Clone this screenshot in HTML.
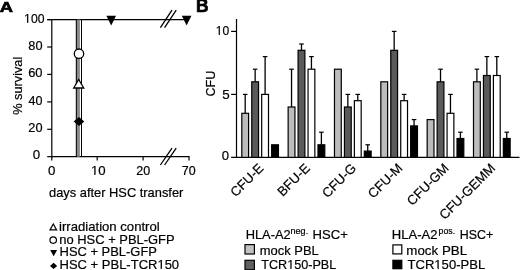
<!DOCTYPE html>
<html><head><meta charset="utf-8"><style>
html,body{margin:0;padding:0;background:#fff;overflow:hidden;width:520px;height:270px;}
svg{display:block;filter:grayscale(1);}
text{font-family:"Liberation Sans",sans-serif;fill:#000;stroke:#000;stroke-width:0.2px;}
</style></head><body>
<svg width="520" height="270" viewBox="0 0 520 270">
<rect width="520" height="270" fill="#fff"/>
<text transform="translate(-0.25,12.25) scale(1.182,1)" font-size="15.51" font-weight="bold" style="stroke-width:0.7px">A</text>
<line x1="51.8" y1="19.0" x2="51.8" y2="157.3" stroke="#000" stroke-width="1.2"/>
<line x1="47.2" y1="19.6" x2="51.8" y2="19.6" stroke="#000" stroke-width="1.2"/>
<line x1="47.2" y1="47.0" x2="51.8" y2="47.0" stroke="#000" stroke-width="1.2"/>
<line x1="47.2" y1="74.4" x2="51.8" y2="74.4" stroke="#000" stroke-width="1.2"/>
<line x1="47.2" y1="101.9" x2="51.8" y2="101.9" stroke="#000" stroke-width="1.2"/>
<line x1="47.2" y1="129.3" x2="51.8" y2="129.3" stroke="#000" stroke-width="1.2"/>
<line x1="47.2" y1="156.7" x2="51.8" y2="156.7" stroke="#000" stroke-width="1.2"/>
<text transform="translate(24.12,23.35) scale(0.959,1)" font-size="12.71">100</text>
<text transform="translate(28.29,49.65) scale(0.975,1)" font-size="13.14">80</text>
<text transform="translate(28.15,76.55) scale(0.985,1)" font-size="13.14">60</text>
<text transform="translate(28.55,104.55) scale(0.957,1)" font-size="13.14">40</text>
<text transform="translate(28.36,131.65) scale(0.959,1)" font-size="13.29">20</text>
<text transform="translate(32.77,159.35) scale(1.014,1)" font-size="13.14">0</text>
<line x1="51.199999999999996" y1="156.7" x2="189.6" y2="156.7" stroke="#000" stroke-width="1.2"/>
<line x1="51.8" y1="156.7" x2="51.8" y2="160.6" stroke="#000" stroke-width="1.2"/>
<line x1="97.2" y1="156.7" x2="97.2" y2="160.6" stroke="#000" stroke-width="1.2"/>
<line x1="143.1" y1="156.7" x2="143.1" y2="160.6" stroke="#000" stroke-width="1.2"/>
<line x1="189.0" y1="156.7" x2="189.0" y2="160.6" stroke="#000" stroke-width="1.2"/>
<text transform="translate(47.97,175.35) scale(1.049,1)" font-size="12.71">0</text>
<text transform="translate(90.94,175.35) scale(1.041,1)" font-size="12.71">10</text>
<text transform="translate(136.27,175.35) scale(0.987,1)" font-size="12.71">20</text>
<text transform="translate(181.78,175.35) scale(0.979,1)" font-size="12.71">70</text>
<line x1="160.4" y1="165.0" x2="172.0" y2="148.2" stroke="#000" stroke-width="1.3"/>
<line x1="160.4" y1="27.6" x2="172.0" y2="10.2" stroke="#000" stroke-width="1.3"/>
<line x1="164.6" y1="165.0" x2="176.2" y2="148.2" stroke="#000" stroke-width="1.3"/>
<line x1="164.6" y1="27.6" x2="176.2" y2="10.2" stroke="#000" stroke-width="1.3"/>
<line x1="47.2" y1="19.6" x2="186.7" y2="19.6" stroke="#000" stroke-width="1.2"/>
<rect x="76.9" y="19.6" width="3.0" height="137.1" fill="#8a8a8a"/>
<line x1="76.35" y1="19.6" x2="76.35" y2="156.7" stroke="#000" stroke-width="1.1"/>
<line x1="81.5" y1="19.6" x2="81.5" y2="156.7" stroke="#000" stroke-width="1.0"/>
<polygon points="106.4,15.7 116.0,15.7 111.2,25.4" fill="#000"/>
<polygon points="181.79999999999998,15.7 191.4,15.7 186.6,25.4" fill="#000"/>
<circle cx="79" cy="53.7" r="4.7" fill="#fff" stroke="#000" stroke-width="1.3"/>
<polygon points="78.7,79.5 73.7,88.0 83.7,88.0" fill="#fff" stroke="#000" stroke-width="1.3" stroke-linejoin="miter"/>
<polygon points="79,116.9 84.3,121.5 79,126.1 73.7,121.5" fill="#000"/>
<text transform="translate(22.4,114.81) rotate(-90) scale(1.005,1)" font-size="12.7">% survival</text>
<text transform="translate(48.98,196.60) scale(0.998,1)" font-size="12.90">days after HSC transfer</text>
<text transform="translate(59.08,230.70) scale(1.017,1)" font-size="12.90">irradiation control</text>
<text transform="translate(59.29,243.90) scale(1.003,1)" font-size="12.90">no HSC + PBL-GFP</text>
<text transform="translate(59.56,256.30) scale(1.004,1)" font-size="12.90">HSC + PBL-GFP</text>
<text transform="translate(59.56,269.00) scale(1.009,1)" font-size="12.90">HSC + PBL-TCR150</text>
<polygon points="53.3,224.0 56.6,229.9 50.0,229.9" fill="#fff" stroke="#000" stroke-width="1.2"/>
<circle cx="53.2" cy="240.1" r="3.25" fill="#fff" stroke="#000" stroke-width="1.2"/>
<polygon points="50.2,250.1 57.1,250.1 53.65,256.3" fill="#000"/>
<polygon points="53.6,262.7 57.2,265.9 53.6,269.1 50.0,265.9" fill="#000"/>
<text transform="translate(196.08,12.35) scale(0.952,1)" font-size="18.26" font-weight="bold" style="stroke-width:0.7px">B</text>
<line x1="236.5" y1="19.0" x2="236.5" y2="158.0" stroke="#000" stroke-width="1.2"/>
<line x1="231.1" y1="157.4" x2="519.5" y2="157.4" stroke="#000" stroke-width="1.2"/>
<line x1="231.1" y1="31.400000000000006" x2="236.5" y2="31.400000000000006" stroke="#000" stroke-width="1.2"/>
<line x1="231.1" y1="94.4" x2="236.5" y2="94.4" stroke="#000" stroke-width="1.2"/>
<text transform="translate(215.73,34.65) scale(0.953,1)" font-size="12.71">10</text>
<text transform="translate(222.26,98.75) scale(1.028,1)" font-size="13.04">5</text>
<text transform="translate(221.87,160.45) scale(1.068,1)" font-size="12.29">0</text>
<text transform="translate(214.60,96.53) rotate(-90) scale(0.987,1)" font-size="12.7">CFU</text>
<line x1="245.2" y1="94.4" x2="245.2" y2="113.30000000000001" stroke="#000" stroke-width="1.3"/>
<line x1="242.89999999999998" y1="94.4" x2="247.5" y2="94.4" stroke="#000" stroke-width="1.2"/>
<rect x="241.80" y="113.30" width="6.8" height="44.10" fill="#bcbcbc" stroke="#000" stroke-width="1.2"/>
<line x1="255.14999999999998" y1="69.2" x2="255.14999999999998" y2="81.80000000000001" stroke="#000" stroke-width="1.3"/>
<line x1="252.84999999999997" y1="69.2" x2="257.45" y2="69.2" stroke="#000" stroke-width="1.2"/>
<rect x="251.75" y="81.80" width="6.8" height="75.60" fill="#5a5a5a" stroke="#000" stroke-width="1.2"/>
<line x1="265.09999999999997" y1="56.60000000000001" x2="265.09999999999997" y2="94.4" stroke="#000" stroke-width="1.3"/>
<line x1="262.79999999999995" y1="56.60000000000001" x2="267.4" y2="56.60000000000001" stroke="#000" stroke-width="1.2"/>
<rect x="261.70" y="94.40" width="6.8" height="63.00" fill="#ffffff" stroke="#000" stroke-width="1.2"/>
<rect x="271.65" y="144.80" width="6.8" height="12.60" fill="#000000" stroke="#000" stroke-width="1.2"/>
<text transform="translate(261.00,165.70) rotate(-45) scale(1.0,1)" font-size="13.2" text-anchor="end" y="4.62">CFU-E</text>
<line x1="291.53999999999996" y1="69.2" x2="291.53999999999996" y2="107.0" stroke="#000" stroke-width="1.3"/>
<line x1="289.23999999999995" y1="69.2" x2="293.84" y2="69.2" stroke="#000" stroke-width="1.2"/>
<rect x="288.14" y="107.00" width="6.8" height="50.40" fill="#bcbcbc" stroke="#000" stroke-width="1.2"/>
<line x1="301.48999999999995" y1="44.000000000000014" x2="301.48999999999995" y2="50.30000000000001" stroke="#000" stroke-width="1.3"/>
<line x1="299.18999999999994" y1="44.000000000000014" x2="303.78999999999996" y2="44.000000000000014" stroke="#000" stroke-width="1.2"/>
<rect x="298.09" y="50.30" width="6.8" height="107.10" fill="#5a5a5a" stroke="#000" stroke-width="1.2"/>
<line x1="311.43999999999994" y1="56.60000000000001" x2="311.43999999999994" y2="69.2" stroke="#000" stroke-width="1.3"/>
<line x1="309.13999999999993" y1="56.60000000000001" x2="313.73999999999995" y2="56.60000000000001" stroke="#000" stroke-width="1.2"/>
<rect x="308.04" y="69.20" width="6.8" height="88.20" fill="#ffffff" stroke="#000" stroke-width="1.2"/>
<line x1="321.39" y1="132.20000000000002" x2="321.39" y2="144.8" stroke="#000" stroke-width="1.3"/>
<line x1="319.09" y1="132.20000000000002" x2="323.69" y2="132.20000000000002" stroke="#000" stroke-width="1.2"/>
<rect x="317.99" y="144.80" width="6.8" height="12.60" fill="#000000" stroke="#000" stroke-width="1.2"/>
<text transform="translate(307.34,165.70) rotate(-45) scale(1.0,1)" font-size="13.2" text-anchor="end" y="4.62">BFU-E</text>
<rect x="334.48" y="69.20" width="6.8" height="88.20" fill="#bcbcbc" stroke="#000" stroke-width="1.2"/>
<line x1="347.83" y1="94.4" x2="347.83" y2="107.0" stroke="#000" stroke-width="1.3"/>
<line x1="345.53" y1="94.4" x2="350.13" y2="94.4" stroke="#000" stroke-width="1.2"/>
<rect x="344.43" y="107.00" width="6.8" height="50.40" fill="#5a5a5a" stroke="#000" stroke-width="1.2"/>
<line x1="357.78" y1="94.4" x2="357.78" y2="100.70000000000002" stroke="#000" stroke-width="1.3"/>
<line x1="355.47999999999996" y1="94.4" x2="360.08" y2="94.4" stroke="#000" stroke-width="1.2"/>
<rect x="354.38" y="100.70" width="6.8" height="56.70" fill="#ffffff" stroke="#000" stroke-width="1.2"/>
<line x1="367.73" y1="144.8" x2="367.73" y2="151.1" stroke="#000" stroke-width="1.3"/>
<line x1="365.43" y1="144.8" x2="370.03000000000003" y2="144.8" stroke="#000" stroke-width="1.2"/>
<rect x="364.33" y="151.10" width="6.8" height="6.30" fill="#000000" stroke="#000" stroke-width="1.2"/>
<text transform="translate(353.68,165.70) rotate(-45) scale(1.0,1)" font-size="13.2" text-anchor="end" y="4.62">CFU-G</text>
<rect x="380.82" y="81.80" width="6.8" height="75.60" fill="#bcbcbc" stroke="#000" stroke-width="1.2"/>
<line x1="394.17" y1="31.400000000000006" x2="394.17" y2="50.30000000000001" stroke="#000" stroke-width="1.3"/>
<line x1="391.87" y1="31.400000000000006" x2="396.47" y2="31.400000000000006" stroke="#000" stroke-width="1.2"/>
<rect x="390.77" y="50.30" width="6.8" height="107.10" fill="#5a5a5a" stroke="#000" stroke-width="1.2"/>
<line x1="404.12" y1="94.4" x2="404.12" y2="100.70000000000002" stroke="#000" stroke-width="1.3"/>
<line x1="401.82" y1="94.4" x2="406.42" y2="94.4" stroke="#000" stroke-width="1.2"/>
<rect x="400.72" y="100.70" width="6.8" height="56.70" fill="#ffffff" stroke="#000" stroke-width="1.2"/>
<line x1="414.07000000000005" y1="119.60000000000001" x2="414.07000000000005" y2="125.9" stroke="#000" stroke-width="1.3"/>
<line x1="411.77000000000004" y1="119.60000000000001" x2="416.37000000000006" y2="119.60000000000001" stroke="#000" stroke-width="1.2"/>
<rect x="410.67" y="125.90" width="6.8" height="31.50" fill="#000000" stroke="#000" stroke-width="1.2"/>
<text transform="translate(400.02,165.70) rotate(-45) scale(1.0,1)" font-size="13.2" text-anchor="end" y="4.62">CFU-M</text>
<rect x="427.16" y="119.60" width="6.8" height="37.80" fill="#bcbcbc" stroke="#000" stroke-width="1.2"/>
<line x1="440.51" y1="69.2" x2="440.51" y2="81.80000000000001" stroke="#000" stroke-width="1.3"/>
<line x1="438.21" y1="69.2" x2="442.81" y2="69.2" stroke="#000" stroke-width="1.2"/>
<rect x="437.11" y="81.80" width="6.8" height="75.60" fill="#5a5a5a" stroke="#000" stroke-width="1.2"/>
<line x1="450.46" y1="94.4" x2="450.46" y2="113.30000000000001" stroke="#000" stroke-width="1.3"/>
<line x1="448.15999999999997" y1="94.4" x2="452.76" y2="94.4" stroke="#000" stroke-width="1.2"/>
<rect x="447.06" y="113.30" width="6.8" height="44.10" fill="#ffffff" stroke="#000" stroke-width="1.2"/>
<line x1="460.41" y1="132.20000000000002" x2="460.41" y2="138.5" stroke="#000" stroke-width="1.3"/>
<line x1="458.11" y1="132.20000000000002" x2="462.71000000000004" y2="132.20000000000002" stroke="#000" stroke-width="1.2"/>
<rect x="457.01" y="138.50" width="6.8" height="18.90" fill="#000000" stroke="#000" stroke-width="1.2"/>
<text transform="translate(446.36,165.70) rotate(-45) scale(1.0,1)" font-size="13.2" text-anchor="end" y="4.62">CFU-GM</text>
<line x1="476.9" y1="69.2" x2="476.9" y2="81.80000000000001" stroke="#000" stroke-width="1.3"/>
<line x1="474.59999999999997" y1="69.2" x2="479.2" y2="69.2" stroke="#000" stroke-width="1.2"/>
<rect x="473.50" y="81.80" width="6.8" height="75.60" fill="#bcbcbc" stroke="#000" stroke-width="1.2"/>
<line x1="486.84999999999997" y1="56.60000000000001" x2="486.84999999999997" y2="75.50000000000001" stroke="#000" stroke-width="1.3"/>
<line x1="484.54999999999995" y1="56.60000000000001" x2="489.15" y2="56.60000000000001" stroke="#000" stroke-width="1.2"/>
<rect x="483.45" y="75.50" width="6.8" height="81.90" fill="#5a5a5a" stroke="#000" stroke-width="1.2"/>
<line x1="496.79999999999995" y1="56.60000000000001" x2="496.79999999999995" y2="75.50000000000001" stroke="#000" stroke-width="1.3"/>
<line x1="494.49999999999994" y1="56.60000000000001" x2="499.09999999999997" y2="56.60000000000001" stroke="#000" stroke-width="1.2"/>
<rect x="493.40" y="75.50" width="6.8" height="81.90" fill="#ffffff" stroke="#000" stroke-width="1.2"/>
<line x1="506.75" y1="132.20000000000002" x2="506.75" y2="138.5" stroke="#000" stroke-width="1.3"/>
<line x1="504.45" y1="132.20000000000002" x2="509.05" y2="132.20000000000002" stroke="#000" stroke-width="1.2"/>
<rect x="503.35" y="138.50" width="6.8" height="18.90" fill="#000000" stroke="#000" stroke-width="1.2"/>
<text transform="translate(492.70,165.70) rotate(-45) scale(1.0,1)" font-size="13.2" text-anchor="end" y="4.62">CFU-GEMM</text>
<text transform="translate(245.67,239.00) scale(0.998,1)" font-size="12.90">HLA-A2</text>
<text transform="translate(290.57,233.60) scale(1.103,1)" font-size="8.20">neg.</text>
<text transform="translate(312.55,239.00) scale(1.016,1)" font-size="12.90">HSC+</text>
<text transform="translate(259.79,255.00) scale(1.003,1)" font-size="12.90">mock PBL</text>
<text transform="translate(261.25,268.70) scale(0.979,1)" font-size="12.90">TCR150-PBL</text>
<rect x="245.0" y="244.6" width="9.4" height="9.4" fill="#c2c2c2" stroke="#000" stroke-width="1.2"/>
<rect x="245.0" y="260.3" width="9.4" height="9.4" fill="#606060" stroke="#000" stroke-width="1.2"/>
<text transform="translate(391.76,239.00) scale(1.012,1)" font-size="12.90">HLA-A2</text>
<text transform="translate(438.59,233.60) scale(1.064,1)" font-size="8.20">pos.</text>
<text transform="translate(459.71,239.00) scale(0.962,1)" font-size="12.90">HSC+</text>
<text transform="translate(406.37,255.00) scale(1.033,1)" font-size="12.90">mock PBL</text>
<text transform="translate(407.54,268.70) scale(1.013,1)" font-size="12.90">TCR150-PBL</text>
<rect x="392.9" y="244.9" width="8.9" height="9.0" fill="#fff" stroke="#000" stroke-width="1.2"/>
<rect x="392.9" y="260.3" width="8.9" height="8.4" fill="#000" stroke="#000" stroke-width="1.2"/>
<rect transform="translate(24.12,23.35) scale(0.959,1)" x="0.25" y="-1.35" width="2.89" height="1.30" fill="#fff"/>
<rect transform="translate(24.12,23.35) scale(0.959,1)" x="4.30" y="-1.35" width="2.82" height="1.30" fill="#fff"/>
<rect transform="translate(90.94,175.35) scale(1.041,1)" x="0.25" y="-1.35" width="2.89" height="1.30" fill="#fff"/>
<rect transform="translate(90.94,175.35) scale(1.041,1)" x="4.30" y="-1.35" width="2.82" height="1.30" fill="#fff"/>
<rect transform="translate(59.56,269.00) scale(1.009,1)" x="97.23" y="-1.00" width="2.93" height="1.30" fill="#fff"/>
<rect transform="translate(59.56,269.00) scale(1.009,1)" x="101.33" y="-1.00" width="2.86" height="1.30" fill="#fff"/>
<rect transform="translate(215.73,34.65) scale(0.953,1)" x="0.25" y="-0.65" width="2.89" height="1.30" fill="#fff"/>
<rect transform="translate(215.73,34.65) scale(0.953,1)" x="4.30" y="-0.65" width="2.82" height="1.30" fill="#fff"/>
<rect transform="translate(261.25,268.70) scale(0.979,1)" x="26.74" y="-0.70" width="2.93" height="1.30" fill="#fff"/>
<rect transform="translate(261.25,268.70) scale(0.979,1)" x="30.84" y="-0.70" width="2.86" height="1.30" fill="#fff"/>
<rect transform="translate(407.54,268.70) scale(1.013,1)" x="26.73" y="-0.70" width="2.93" height="1.30" fill="#fff"/>
<rect transform="translate(407.54,268.70) scale(1.013,1)" x="30.83" y="-0.70" width="2.86" height="1.30" fill="#fff"/>
</svg>
</body></html>
